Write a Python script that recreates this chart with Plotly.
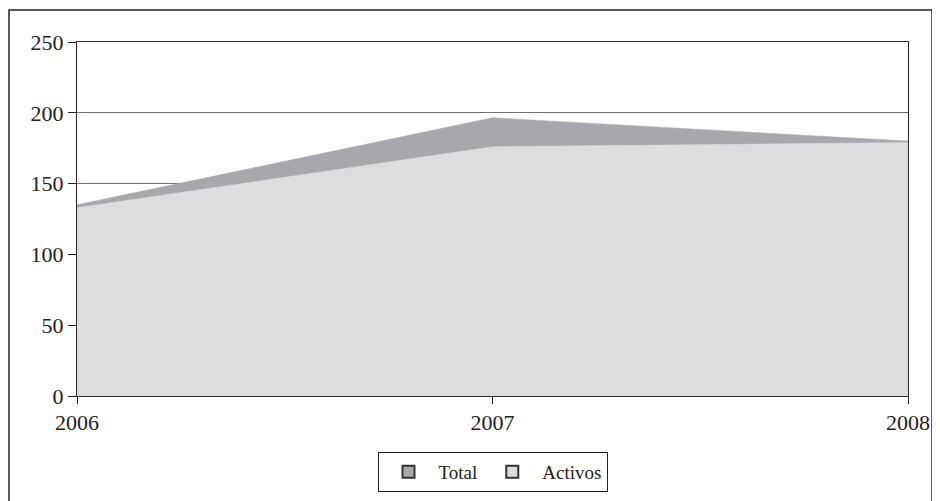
import plotly.graph_objects as go

# Datos
anios = [2006, 2007, 2008]
total = [135, 196.5, 180]
activos = [133, 176, 179]
series = ['Total', 'Activos']
colores = ['#a7a8ac', '#dcdddf']

fig = go.Figure()

fig.add_trace(go.Scatter(x=anios, y=total, name=series[0], mode='lines',
                         fill='tozeroy', fillcolor=colores[0], showlegend=False,
                         line=dict(color=colores[0], width=0.5)))
fig.add_trace(go.Scatter(x=anios, y=activos, name=series[1], mode='lines',
                         fill='tozeroy', fillcolor=colores[1], showlegend=False,
                         line=dict(color=colores[1], width=0.5)))

# Entradas de leyenda (cajas con borde)
for nombre, color in zip(series, colores):
    fig.add_trace(go.Bar(x=[None], y=[None], name=nombre,
                         marker=dict(color=color, line=dict(color='#333333', width=1.2))))

# Marco exterior
fig.add_shape(type='rect', xref='paper', yref='paper',
              x0=-0.0818, x1=1.0289, y0=-0.35, y1=1.0904,
              line=dict(color='#222222', width=1.5), layer='below')

fig.update_layout(
    width=940, height=501,
    margin=dict(l=69, r=40, t=34, b=113),
    paper_bgcolor='white', plot_bgcolor='white',
    font=dict(family='Liberation Serif', size=22, color='#222222'),
    showlegend=True,
    legend=dict(orientation='h', x=0.5, xanchor='center', y=-0.158, yanchor='top',
                bordercolor='#222222', borderwidth=1,
                font=dict(size=19), traceorder='normal', itemwidth=50,
                itemsizing='constant'),
)

fig.update_xaxes(range=[2006, 2008], tickvals=anios, ticktext=[str(a) for a in anios],
                 showgrid=False, showline=True, linecolor='#333333', linewidth=1,
                 mirror=True, ticks='outside', ticklen=7, tickcolor='#222222')
fig.update_yaxes(range=[0, 250], dtick=50, showgrid=True, gridcolor='#707070', gridwidth=1.2,
                 showline=True, linecolor='#222222', linewidth=1, mirror=True,
                 ticks='outside', ticklen=8, tickcolor='#222222', zeroline=False)

fig.write_html("out.html")
